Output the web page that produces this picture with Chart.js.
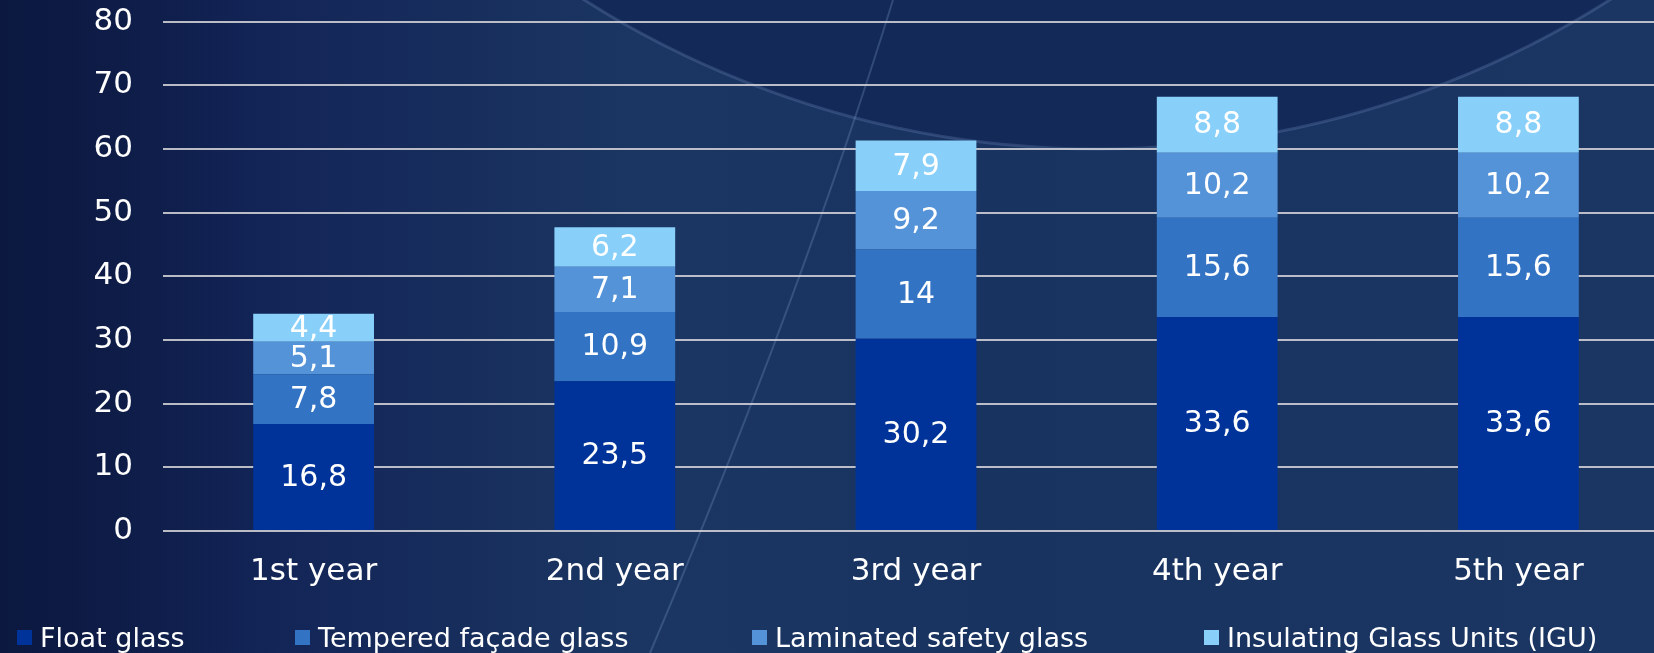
<!DOCTYPE html>
<html>
<head>
<meta charset="utf-8">
<script src="https://cdn.jsdelivr.net/npm/chart.js@4.4.1/dist/chart.umd.min.js"></script>
<style>
  html, body { margin: 0; padding: 0; width: 1654px; height: 653px; overflow: hidden; background: #142a58; }
  #wrap { position: relative; width: 1670px; height: 653px; }
  #legend { position: absolute; left: 0; top: 0; width: 1654px; height: 653px; pointer-events: none; }
  .item { position: absolute; top: 620px; height: 34px; display: flex; align-items: center;
          font-family: "DejaVu Sans", sans-serif; font-size: 27px; color: #ffffff; white-space: nowrap; }
  .item i { display: inline-block; width: 15px; height: 15px; margin-right: 8px; }
</style>
</head>
<body>
<div id="wrap">
  <canvas id="chart" width="1670" height="653"></canvas>
  <div id="legend"></div>
</div>
<script>
const categories = ['1st year', '2nd year', '3rd year', '4th year', '5th year'];
const seriesNames = ['Float glass', 'Tempered façade glass', 'Laminated safety glass', 'Insulating Glass Units (IGU)'];
const floatGlass = [16.8, 23.5, 30.2, 33.6, 33.6];
const temperedGlass = [7.8, 10.9, 14, 15.6, 15.6];
const laminatedGlass = [5.1, 7.1, 9.2, 10.2, 10.2];
const iguGlass = [4.4, 6.2, 7.9, 8.8, 8.8];
const yTicks = [0, 10, 20, 30, 40, 50, 60, 70, 80];

const colors = ['#003399', '#3373c4', '#5593d9', '#88cffa'];
const legendLeft = [17, 295, 752, 1204];

// фон: тёмно-синий градиент с дугами
const backdrop = {
  id: 'backdrop',
  beforeDraw(chart) {
    const ctx = chart.ctx;
    const w = chart.width, h = chart.height;
    ctx.save();
    const g = ctx.createLinearGradient(0, 0, w, 0);
    g.addColorStop(0, '#0d1a43');
    g.addColorStop(0.15, '#122456');
    g.addColorStop(0.38, '#1b3662');
    g.addColorStop(0.6, '#193361');
    g.addColorStop(1, '#1b3663');
    ctx.fillStyle = g;
    ctx.fillRect(0, 0, w, h);

    // большой тёмный круг сверху
    ctx.beginPath();
    ctx.arc(1097, -806, 955, 0, Math.PI * 2);
    ctx.fillStyle = '#132a58';
    ctx.fill();
    ctx.lineWidth = 3;
    ctx.strokeStyle = 'rgba(140,170,220,0.22)';
    ctx.stroke();

    // диагональная светлая линия
    ctx.beginPath();
    ctx.moveTo(893, 0);
    ctx.quadraticCurveTo(800, 300, 650, 653);
    ctx.lineWidth = 2;
    ctx.strokeStyle = 'rgba(140,170,220,0.25)';
    ctx.stroke();

    // левая тёмная полоса
    const l = ctx.createLinearGradient(0, 0, 260, 0);
    l.addColorStop(0, 'rgba(10,22,60,0.5)');
    l.addColorStop(1, 'rgba(10,22,60,0)');
    ctx.fillStyle = l;
    ctx.fillRect(0, 0, 260, h);
    ctx.restore();
  }
};

// подписи значений внутри сегментов
const segmentLabels = {
  id: 'segmentLabels',
  afterDatasetsDraw(chart) {
    const ctx = chart.ctx;
    ctx.save();
    ctx.font = '30px "DejaVu Sans"';
    ctx.fillStyle = '#ffffff';
    ctx.textAlign = 'center';
    ctx.textBaseline = 'middle';
    chart.data.datasets.forEach((ds, i) => {
      chart.getDatasetMeta(i).data.forEach((bar, j) => {
        const p = bar.getCenterPoint();
        ctx.fillText(String(ds.data[j]).replace('.', ','), p.x, p.y + 1);
      });
    });
    ctx.restore();
  }
};

const seriesData = [floatGlass, temperedGlass, laminatedGlass, iguGlass];

new Chart(document.getElementById('chart'), {
  type: 'bar',
  data: {
    labels: categories,
    datasets: seriesNames.map((name, i) => ({
      label: name,
      data: seriesData[i],
      backgroundColor: colors[i],
      borderWidth: 0,
      barPercentage: 1,
      categoryPercentage: 0.401
    }))
  },
  options: {
    responsive: false,
    animation: false,
    layout: { padding: { top: 21.5, right: 1, left: 0, bottom: 0 } },
    plugins: { legend: { display: false }, tooltip: { enabled: false } },
    scales: {
      x: {
        stacked: true,
        grid: { display: false, drawTicks: false },
        border: { display: false },
        ticks: { color: '#ffffff', padding: 22, font: { family: 'DejaVu Sans', size: 31 } },
        afterFit(scale) { scale.height = 122; }
      },
      y: {
        stacked: true,
        min: 0,
        max: 80,
        afterBuildTicks(scale) { scale.ticks = yTicks.map(v => ({ value: v })); },
        grid: { color: 'rgba(210,210,214,0.88)', lineWidth: 2, drawTicks: false },
        border: { display: false },
        ticks: { color: '#ffffff', padding: 30, font: { family: 'DejaVu Sans', size: 31 } },
        afterFit(scale) {
          scale.width = 163;
          scale.paddingTop = 0;
          scale.paddingBottom = 0;
        }
      }
    }
  },
  plugins: [backdrop, segmentLabels]
});

// легенда
const legend = document.getElementById('legend');
seriesNames.forEach((name, i) => {
  const el = document.createElement('div');
  el.className = 'item';
  el.style.left = legendLeft[i] + 'px';
  el.innerHTML = '<i style="background:' + colors[i] + '"></i>' + name;
  legend.appendChild(el);
});
</script>
</body>
</html>
